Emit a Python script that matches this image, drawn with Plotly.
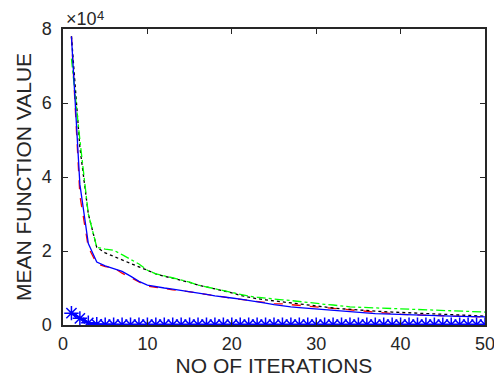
import plotly.graph_objects as go

iterations = list(range(1, 51))

red_dashed = [78000, 35000, 21000, 16500, 15800, 15500, 14000, 12800, 11500, 10500,
              10200, 9800, 9500, 9300, 9000, 8700, 8300, 7900, 7600, 7200,
              6900, 6600, 6300, 6000, 5800, 5700, 5500, 5200, 4900, 4700,
              4500, 4300, 4100, 3900, 3700, 3500, 3300, 3200, 3000, 2900,
              2800, 2700, 2600, 2500, 2450, 2400, 2350, 2300, 2250, 2200]

black_dotted = [78000, 48000, 30000, 21000, 19500, 18500, 17500, 16500, 15700, 14800,
                13800, 13200, 12700, 12200, 11500, 10800, 10300, 9800, 9300, 8700,
                8000, 7500, 7100, 6800, 6500, 6200, 5900, 5600, 5300, 5000,
                4800, 4600, 4400, 4200, 4000, 3800, 3700, 3600, 3500, 3400,
                3300, 3200, 3000, 2900, 2800, 2700, 2600, 2500, 2450, 2400]

green_dashdot = [72000, 50000, 30000, 21000, 20500, 20200, 19000, 17800, 16500, 14800,
                 13800, 13300, 12800, 12200, 11600, 10800, 10300, 9800, 9300, 8800,
                 8200, 7800, 7500, 7200, 7000, 6800, 6600, 6300, 6000, 5800,
                 5600, 5400, 5100, 4900, 4800, 4700, 4600, 4500, 4400, 4350,
                 4300, 4250, 4200, 4100, 4000, 3900, 3800, 3700, 3600, 3500]

blue_solid = [78000, 38000, 22000, 17000, 16000, 15300, 14500, 13200, 11800, 10800,
              10300, 10000, 9700, 9400, 9000, 8600, 8300, 7900, 7500, 7300,
              7000, 6700, 6300, 5900, 5500, 5100, 4900, 4700, 4500, 4300,
              4100, 3900, 3700, 3500, 3400, 3200, 3100, 3000, 2900, 2800,
              2750, 2700, 2600, 2550, 2500, 2400, 2350, 2300, 2250, 2200]

blue_star = [3200, 1800, 600, 200] + [100] * 46

x_ticks = [0, 10, 20, 30, 40, 50]
y_ticks = [0, 20000, 40000, 60000, 80000]
y_tick_labels = ["0", "2", "4", "6", "8"]

FONT = "Arial, Liberation Sans, sans-serif"
TXT = "#262626"

fig = go.Figure()
fig.add_trace(go.Scatter(x=iterations, y=red_dashed, mode="lines",
                         line=dict(color="#ff0000", width=1.3, dash="dash")))
fig.add_trace(go.Scatter(x=iterations, y=black_dotted, mode="lines",
                         line=dict(color="#000000", width=1.3, dash="dot")))
fig.add_trace(go.Scatter(x=iterations, y=green_dashdot, mode="lines",
                         line=dict(color="#00ff00", width=1.3, dash="dashdot")))
fig.add_trace(go.Scatter(x=iterations, y=blue_solid, mode="lines",
                         line=dict(color="#0000ff", width=1.3)))
fig.add_trace(go.Scatter(x=iterations, y=blue_star, mode="lines+markers",
                         line=dict(color="#0000ff", width=2.5),
                         marker=dict(symbol="asterisk-open", size=12,
                                     line=dict(color="#0000ff", width=1.5))))

axis_common = dict(showline=True, linecolor=TXT, linewidth=1.5, mirror="ticks",
                   ticks="inside", ticklen=5, tickcolor=TXT, showgrid=False,
                   zeroline=False, automargin=False, ticklabeloverflow="allow",
                   tickfont=dict(family=FONT, size=18, color=TXT))

# The page body keeps its default 8px margin, so the figure is sized to fit
# inside the 502x385 window with that offset.
fig.update_layout(
    width=492, height=369,
    margin=dict(l=55, r=15, t=21, b=52),
    paper_bgcolor="white", plot_bgcolor="white",
    showlegend=False,
    font=dict(family=FONT, size=18, color=TXT),
    xaxis=dict(range=[0, 50], tickvals=x_ticks, ticklabelstandoff=2,
               title=dict(text="NO OF ITERATIONS", standoff=4,
                          font=dict(family=FONT, size=21, color=TXT)),
               **axis_common),
    yaxis=dict(range=[0, 80000], tickvals=y_ticks, ticktext=y_tick_labels,
               ticklabelstandoff=6,
               title=dict(text="MEAN FUNCTION VALUE", standoff=4,
                          font=dict(family=FONT, size=21, color=TXT)),
               **axis_common),
    annotations=[
        dict(text="\u00d710", x=0, y=1, xref="paper", yref="paper",
             xanchor="left", yanchor="middle", showarrow=False,
             xshift=1, yshift=10, font=dict(family=FONT, size=18, color=TXT)),
        dict(text="4", x=0, y=1, xref="paper", yref="paper",
             xanchor="left", yanchor="middle", showarrow=False,
             xshift=32, yshift=14, font=dict(family=FONT, size=13, color=TXT)),
    ],
)

fig.write_html("out.html")
